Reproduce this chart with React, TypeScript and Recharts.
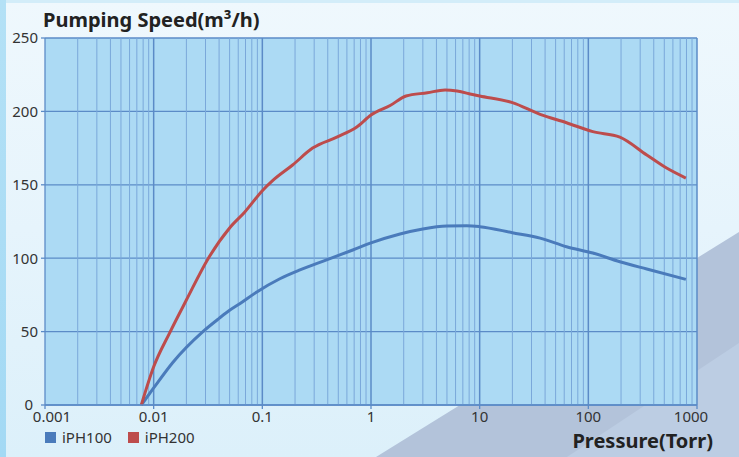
import React from "react";
import { LineChart, Line, XAxis, YAxis, CartesianGrid, ReferenceLine } from "recharts";

const xTicks = [0.001, 0.01, 0.1, 1, 10, 100, 1000];
const yTicks = [0, 50, 100, 150, 200, 250];
const minorX = [
  0.002, 0.003, 0.004, 0.005, 0.006, 0.007, 0.008, 0.009,
  0.02, 0.03, 0.04, 0.05, 0.06, 0.07, 0.08, 0.09,
  0.2, 0.3, 0.4, 0.5, 0.6, 0.7, 0.8, 0.9,
  2, 3, 4, 5, 6, 7, 8, 9,
  20, 30, 40, 50, 60, 70, 80, 90,
  200, 300, 400, 500, 600, 700, 800, 900,
];

const iph100P = [0.0077, 0.01, 0.015, 0.0284, 0.04, 0.05, 0.062, 0.089, 0.145, 0.222, 0.39, 0.68, 1, 1.85, 3, 5, 7.6, 10, 20, 36, 63, 110, 195, 345, 790];
const iph100S = [0, 11.6, 29, 50, 59, 64.5, 69, 77, 86, 92, 98.8, 105.6, 110.4, 116.5, 119.9, 121.9, 122.1, 121.5, 117.4, 113.7, 107.8, 103.5, 97.6, 92.6, 85.6];

const iph200P = [0.0077, 0.01, 0.014, 0.02, 0.0316, 0.05, 0.069, 0.1, 0.125, 0.19, 0.29, 0.49, 0.74, 1, 1.5, 2.1, 3.3, 4.8, 6.2, 8.6, 10, 20, 36, 63, 110, 195, 345, 525, 790];
const iph200S = [0, 26, 49, 71.5, 99.5, 120.6, 131.5, 146, 153, 163.5, 175, 182.6, 189.4, 197.5, 204, 210.5, 212.7, 214.6, 213.9, 211.5, 210.5, 206, 198, 192.3, 186.2, 182.5, 170.3, 161.4, 154.6];

const d100 = iph100P.map((p, i) => ({ p, s: iph100S[i] }));
const d200 = iph200P.map((p, i) => ({ p, s: iph200S[i] }));

const BLUE = "#4a7bbb";
const RED = "#bd4c4c";
const FONT = "'Noto Sans', sans-serif";

const XTick = (props: any) => {
  const { x, y, payload } = props;
  let dx = 0;
  if (payload.value === 0.001) dx = 7;
  if (payload.value === 1000) dx = -6;
  return (
    <text x={x + dx} y={y} dy="0.71em" textAnchor="middle" fill="#333" fontSize={15} fontFamily={FONT}>
      {String(payload.value)}
    </text>
  );
};

const YTick = (props: any) => {
  const { x, y, payload } = props;
  const dx = payload.value === 0 ? -5 : 0;
  return (
    <text x={x + dx} y={y} dy="0.355em" textAnchor="end" fill="#333" fontSize={15} fontFamily={FONT}>
      {String(payload.value)}
    </text>
  );
};

export default function App() {
  return (
    <div
      style={{
        position: "absolute",
        left: 0,
        top: 0,
        width: 739,
        height: 457,
        overflow: "hidden",
        background: "linear-gradient(to bottom, #eff8fd 0%, #e6f4fc 50%, #dcf0fa 100%)",
        fontFamily: FONT,
      }}
    >
      <div style={{ position: "absolute", left: 0, top: 0, width: 739, height: 3, background: "#d3edf9" }} />
      <div style={{ position: "absolute", left: 0, top: 0, width: 6, height: 457, background: "linear-gradient(to bottom, #b4e1f6, #a3d9f4)" }} />
      <div
        style={{
          position: "absolute",
          left: 0,
          top: 0,
          width: 739,
          height: 457,
          background: "#b3c3da",
          clipPath: "polygon(376px 457px, 739px 232px, 739px 457px)",
        }}
      />
      <div
        style={{
          position: "absolute",
          left: 0,
          top: 0,
          width: 739,
          height: 457,
          background: "#bccde3",
          clipPath: "polygon(567px 457px, 739px 343px, 739px 457px)",
        }}
      />
      <div
        style={{
          position: "absolute",
          left: 43,
          top: 8,
          fontSize: 20,
          fontWeight: 700,
          color: "#222",
          whiteSpace: "nowrap",
          lineHeight: "24px",
        }}
      >
        Pumping Speed(m³/h)
      </div>
      <div
        style={{
          position: "absolute",
          right: 26,
          top: 432.5,
          fontSize: 20,
          fontWeight: 700,
          color: "#222",
          whiteSpace: "nowrap",
          lineHeight: "15px",
        }}
      >
        Pressure(Torr)
      </div>
      <div style={{ position: "absolute", left: 45, top: 427, display: "flex", alignItems: "center", fontSize: 15, color: "#333", lineHeight: "20px" }}>
        <span style={{ display: "inline-block", width: 11, height: 11, background: BLUE, marginRight: 6 }} />
        <span style={{ marginRight: 16 }}>iPH100</span>
        <span style={{ display: "inline-block", width: 11, height: 11, background: RED, marginRight: 6 }} />
        <span>iPH200</span>
      </div>
      <div style={{ position: "absolute", left: 0, top: 0 }}>
        <LineChart width={739} height={457} margin={{ top: 38, right: 42, bottom: 22, left: 0 }}>
          <CartesianGrid horizontal={true} vertical={false} stroke="#5b8bc7" strokeWidth={1.3} fill="#acdaf4" fillOpacity={1} />
          <XAxis
            dataKey="p"
            type="number"
            scale="log"
            domain={[0.001, 1000]}
            ticks={xTicks}
            allowDataOverflow
            height={30}
            tick={<XTick />}
            tickSize={4}
            tickMargin={2.5}
            stroke="#5b8bc7"
            strokeWidth={1.3}
          />
          <YAxis
            type="number"
            domain={[0, 250]}
            ticks={yTicks}
            width={45}
            tickSize={4}
            tickMargin={3}
            stroke="#5b8bc7"
            strokeWidth={1.3}
            tick={<YTick />}
          />
          {minorX.map((v) => (
            <ReferenceLine key={"m" + v} x={v} stroke="#7aa8da" strokeWidth={1} />
          ))}
          {xTicks.slice(1).map((v) => (
            <ReferenceLine key={"M" + v} x={v} stroke="#5b8bc7" strokeWidth={1.5} />
          ))}
          <Line data={d100} dataKey="s" type="monotone" stroke={BLUE} strokeWidth={3} dot={false} isAnimationActive={false} />
          <Line data={d200} dataKey="s" type="monotone" stroke={RED} strokeWidth={3} dot={false} isAnimationActive={false} />
        </LineChart>
      </div>
    </div>
  );
}
